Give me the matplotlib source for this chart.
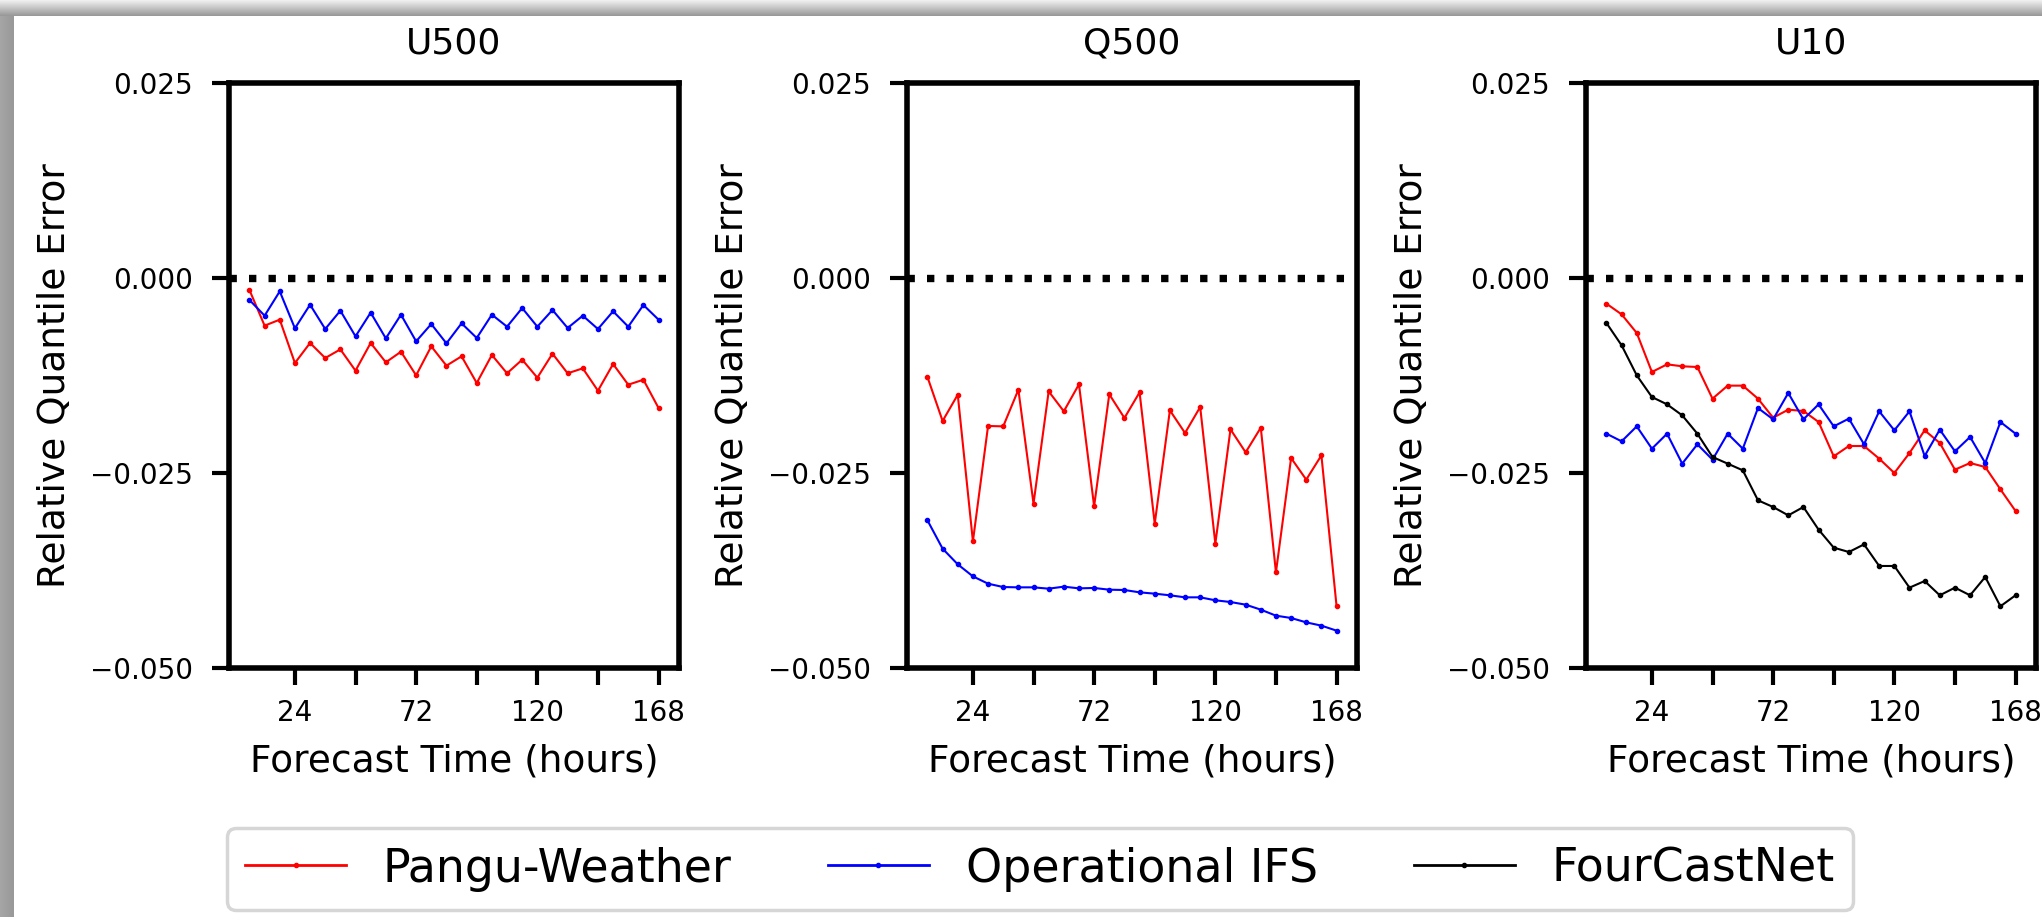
import matplotlib
matplotlib.use("Agg")
import matplotlib.pyplot as plt
import numpy as np

# Lead times (hours)
lead_hours = [6, 12, 18, 24, 30, 36, 42, 48, 54, 60, 66, 72, 78, 84,
              90, 96, 102, 108, 114, 120, 126, 132, 138, 144, 150, 156, 162, 168]

# U500
u500_pangu = [-0.00154, -0.00611, -0.00534, -0.0109, -0.00833, -0.01026, -0.00915,
              -0.01188, -0.00833, -0.01081, -0.00945, -0.01248, -0.00876, -0.01124,
              -0.01004, -0.01346, -0.00987, -0.01222, -0.01047, -0.01278, -0.0097,
              -0.01222, -0.01158, -0.01445, -0.01103, -0.01368, -0.01304, -0.01667]
u500_ifs = [-0.00282, -0.00483, -0.00171, -0.00645, -0.00342, -0.00654, -0.00419,
            -0.00748, -0.00444, -0.00774, -0.0047, -0.00812, -0.0059, -0.00838,
            -0.00581, -0.00769, -0.0047, -0.00624, -0.00385, -0.00624, -0.0041,
            -0.00641, -0.00483, -0.00654, -0.00427, -0.00624, -0.00346, -0.00534]

# Q500
q500_pangu = [-0.01269, -0.01833, -0.01496, -0.03376, -0.01897, -0.01902, -0.01432,
              -0.02893, -0.01453, -0.01709, -0.01363, -0.02927, -0.01491, -0.01795,
              -0.01466, -0.0315, -0.01697, -0.01987, -0.01654, -0.03406, -0.0194,
              -0.02235, -0.01919, -0.03774, -0.02308, -0.02585, -0.02274, -0.04205]
q500_ifs = [-0.03107, -0.0347, -0.03671, -0.03825, -0.03919, -0.03962, -0.03966,
            -0.03966, -0.03983, -0.03957, -0.03979, -0.03974, -0.03996, -0.04,
            -0.0403, -0.04047, -0.04068, -0.04094, -0.04094, -0.04132, -0.04154,
            -0.04188, -0.04252, -0.04329, -0.04359, -0.04415, -0.04457, -0.04521]

# U10
u10_pangu = [-0.00329, -0.00466, -0.00705, -0.01205, -0.01107, -0.01132, -0.01141,
             -0.01547, -0.0138, -0.0138, -0.01547, -0.01791, -0.01688, -0.01705,
             -0.01846, -0.02286, -0.02154, -0.02154, -0.02316, -0.025, -0.02244,
             -0.01953, -0.02115, -0.02457, -0.02372, -0.02423, -0.02709, -0.02987]
u10_ifs = [-0.01996, -0.02094, -0.01902, -0.02188, -0.01996, -0.0238, -0.02132,
           -0.02329, -0.01996, -0.02188, -0.01667, -0.01812, -0.01474, -0.01812,
           -0.0162, -0.01902, -0.01803, -0.02132, -0.01709, -0.01953, -0.01709,
           -0.02282, -0.01944, -0.02222, -0.02038, -0.02372, -0.01846, -0.01996]
u10_fourcastnet = [-0.00577, -0.00863, -0.01248, -0.01526, -0.0162, -0.01761, -0.01996,
                   -0.02295, -0.0238, -0.02466, -0.0285, -0.02936, -0.03043, -0.02936,
                   -0.03226, -0.03457, -0.03513, -0.03415, -0.03692, -0.03692, -0.0397,
                   -0.03885, -0.04068, -0.0397, -0.04068, -0.03833, -0.04209, -0.04068]

variables = ["U500", "Q500", "U10"]
series = {
    "U500": {"Pangu-Weather": u500_pangu, "Operational IFS": u500_ifs},
    "Q500": {"Pangu-Weather": q500_pangu, "Operational IFS": q500_ifs},
    "U10": {"Pangu-Weather": u10_pangu, "Operational IFS": u10_ifs,
            "FourCastNet": u10_fourcastnet},
}
colors = {"Pangu-Weather": "#ff0000", "Operational IFS": "#0000ff", "FourCastNet": "black"}

x_ticks = [24, 48, 72, 96, 120, 144, 168]
x_ticklabels = ["24", "", "72", "", "120", "", "168"]
y_ticks = [-0.05, -0.025, 0.0, 0.025]

W, H = 2042, 917
fig = plt.figure(figsize=(W / 100, H / 100), dpi=100)

lefts = [229, 907, 1586]
for left, var in zip(lefts, variables):
    ax = fig.add_axes([left / W, (H - 668) / H, 450 / W, 585 / H])
    ax.axhline(0, color="black", linestyle=":", linewidth=5.3)
    for name, values in series[var].items():
        ax.plot(lead_hours, values, color=colors[name], marker=".", markersize=6,
                linewidth=1.5, label=name)
    ax.set_ylim(-0.05, 0.025)
    ax.set_yticks(y_ticks)
    ax.set_xticks(x_ticks)
    ax.set_xticklabels(x_ticklabels)
    ax.tick_params(width=3, length=12, labelsize=20)
    ax.tick_params(axis="y", pad=14)
    ax.tick_params(axis="x", pad=10)
    for spine in ax.spines.values():
        spine.set_linewidth(4)
    ax.set_title(var, fontsize=26, pad=21)
    ax.set_xlabel("Forecast Time (hours)", fontsize=27, labelpad=12)
    ax.set_ylabel("Relative Quantile Error", fontsize=27, labelpad=12)

handles, labels = ax.get_legend_handles_labels()
leg = fig.legend(handles, labels, loc="center", bbox_to_anchor=(1040 / W, 1 - 869 / H),
                 ncol=3, fontsize=33, handlelength=2.2, columnspacing=2.1)
leg.get_frame().set_linewidth(2.5)
for line in leg.get_lines():
    line.set_linewidth(2)

# grey window edge along the top and left
border = np.zeros((H, W, 4))
top = np.linspace(0.94, 0.6, 16)
border[:16, :, :3] = top[:, None, None]
border[:16, :, 3] = 1
left_band = np.linspace(0.65, 0.6, 14)
border[16:, :14, :3] = left_band[None, :, None]
border[16:, :14, 3] = 1
fig.figimage(border, xo=0, yo=0, origin="upper", zorder=20)

fig.savefig("out.png", dpi=100)
